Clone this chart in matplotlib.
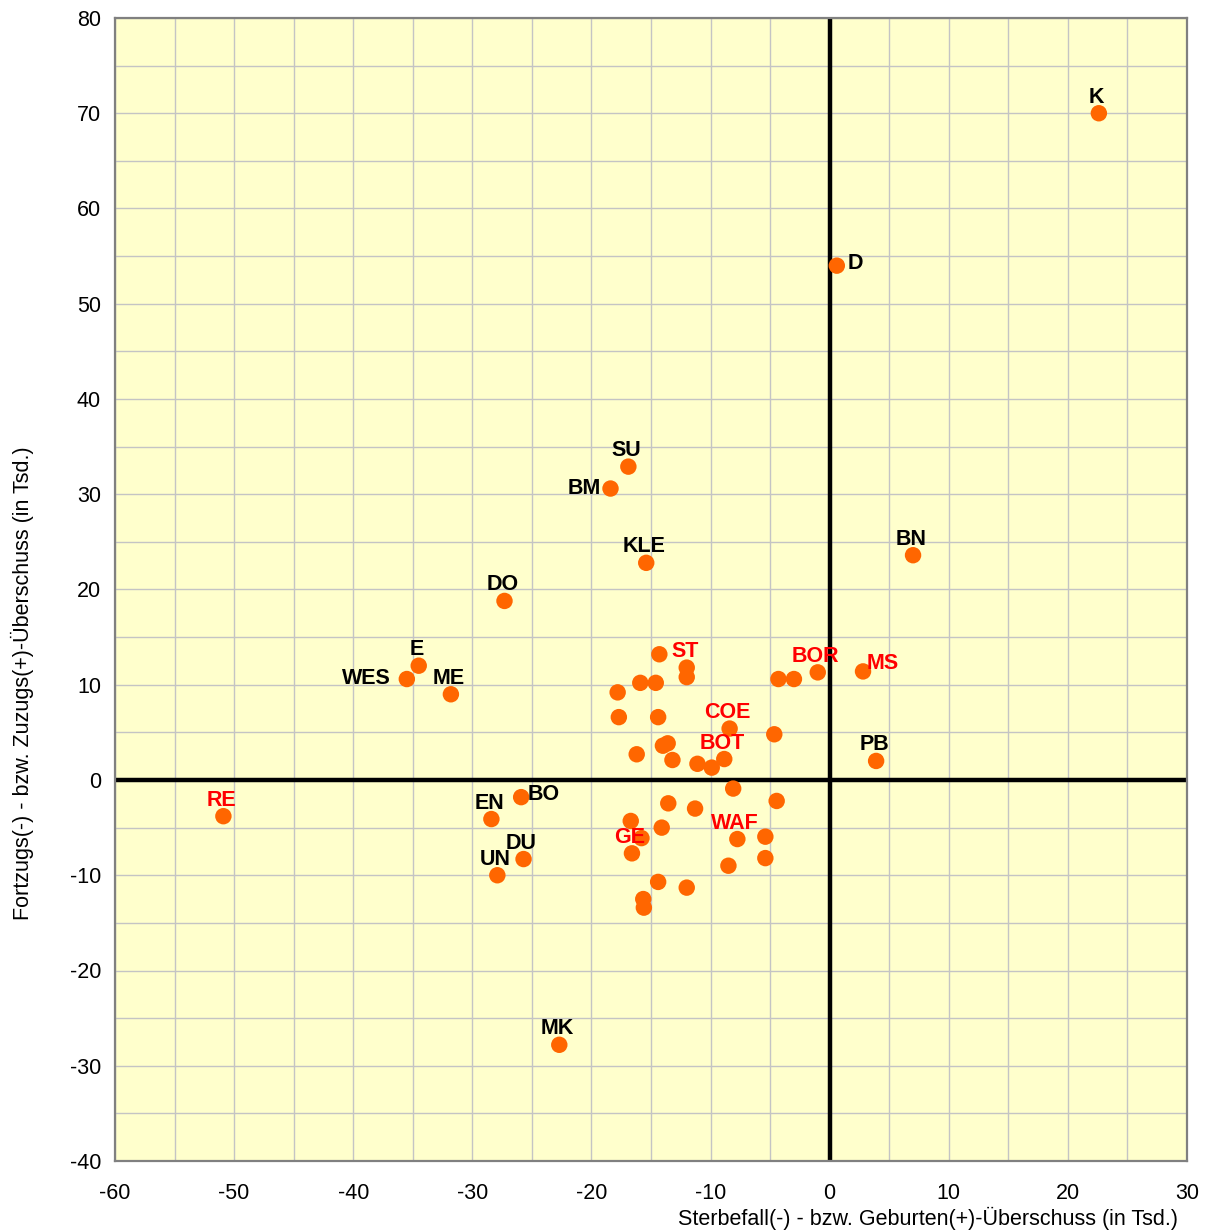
import matplotlib
matplotlib.use("Agg")
import matplotlib.pyplot as plt

plt.rcParams['font.family'] = ['Liberation Sans', 'DejaVu Sans']
plt.rcParams['axes.unicode_minus'] = False

# --- labelled districts: (name, birth/death balance, migration balance) in thousands ---
names = ["K", "D", "SU", "BM", "KLE", "BN", "DO", "E", "WES", "ME", "RE", "EN",
         "BO", "DU", "UN", "MK", "PB", "MS", "BOR", "ST", "COE", "BOT", "GE", "WAF"]
x_lab = [22.6, 0.6, -16.9, -18.4, -15.4, 7.0, -27.3, -34.5, -35.5, -31.8, -50.9, -28.4,
         -25.9, -25.7, -27.9, -22.7, 3.9, 2.8, -1.0, -12.0, -8.4, -8.85, -16.6, -7.75]
y_lab = [70.0, 54.0, 32.9, 30.6, 22.8, 23.6, 18.8, 12.0, 10.6, 9.0, -3.8, -4.1,
         -1.8, -8.3, -10.0, -27.8, 2.0, 11.4, 11.3, 11.8, 5.4, 2.2, -7.7, -6.2]
red_names = {"RE", "ST", "BOR", "MS", "COE", "BOT", "GE", "WAF"}

# --- unlabelled districts ---
x_other = [-14.3, -12.0, -15.9, -14.6, -17.8, -17.7, -14.4, -4.65, -16.2, -14.0,
           -13.6, -13.2, -11.1, -9.9, -4.3, -3.0, -8.1, -4.45, -13.55, -11.3,
           -16.7, -14.1, -15.8, -5.4, -5.4, -8.5, -14.4, -12.0, -15.65, -15.6]
y_other = [13.2, 10.8, 10.2, 10.2, 9.2, 6.6, 6.6, 4.8, 2.7, 3.6,
           3.85, 2.1, 1.7, 1.3, 10.6, 10.6, -0.9, -2.2, -2.45, -3.0,
           -4.3, -5.0, -6.1, -5.95, -8.2, -9.0, -10.7, -11.3, -12.5, -13.4]

# label placement (pixels from the point), default is centred above
label_pos = {
    "D": (11, 2, "left"), "BM": (-10, 0, "right"), "WES": (-16, 1, "right"),
    "BO": (6, 3, "left"), "MS": (4, 8, "left"),
}

fig = plt.figure(figsize=(12.12, 12.3), dpi=100)
ax = fig.add_axes([115 / 1212, 1 - 1161 / 1230, 1072 / 1212, 1143 / 1230])
ax.set_facecolor("#FFFFCC")

ax.set_xlim(-60, 30)
ax.set_ylim(-40, 80)
ax.set_xticks(range(-60, 31, 10))
ax.set_yticks(range(-40, 81, 10))
ax.set_xticks(range(-60, 31, 5), minor=True)
ax.set_yticks(range(-40, 81, 5), minor=True)
ax.grid(True, which="both", color="#C4C4C4", linewidth=1)
ax.set_axisbelow(True)
ax.tick_params(which="both", length=0)
ax.tick_params(axis="x", labelsize=15.5, pad=16)
ax.tick_params(axis="y", labelsize=15.5, pad=10)
for s in ax.spines.values():
    s.set_color("#808080")
    s.set_linewidth(1.6)

ax.axhline(0, color="black", linewidth=3.2, zorder=2)
ax.axvline(0, color="black", linewidth=3.2, zorder=2)

ax.scatter(x_other + x_lab, y_other + y_lab, s=140, color="#FF6600",
           edgecolors="none", zorder=3)

for name, xv, yv in zip(names, x_lab, y_lab):
    dx, dy, ha = label_pos.get(name, (-2, 16, "center"))
    ax.annotate(name, (xv, yv), xytext=(dx, dy), textcoords="offset pixels",
                ha=ha, va="center", fontsize=15.5, fontweight="bold",
                color="#FF0000" if name in red_names else "black", zorder=4)

fig.text(1178 / 1212, 1 - 1218 / 1230,
         "Sterbefall(-) - bzw. Geburten(+)-Überschuss (in Tsd.)",
         ha="right", va="center", fontsize=15.5)
fig.text(22 / 1212, 1 - 683 / 1230,
         "Fortzugs(-) - bzw. Zuzugs(+)-Überschuss (in Tsd.)",
         ha="center", va="center", rotation=90, fontsize=15.5)

fig.savefig("out.png", dpi=100)
